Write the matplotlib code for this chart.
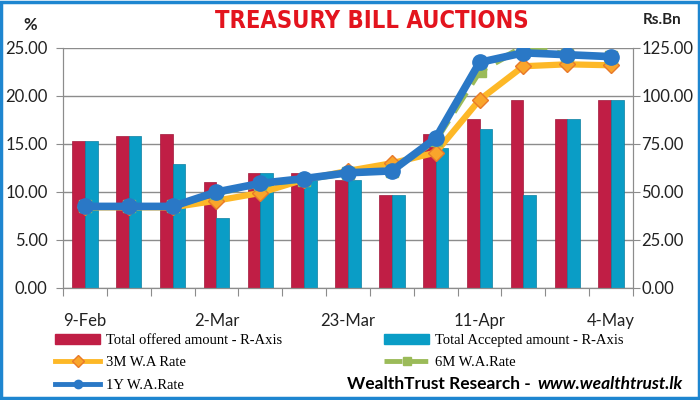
import matplotlib
matplotlib.use('Agg')
import matplotlib.pyplot as plt
import numpy as np
from matplotlib.patches import Patch, Rectangle
from matplotlib.lines import Line2D

# data
tick_labels = ['9-Feb', '', '', '2-Mar', '', '', '23-Mar', '', '', '11-Apr', '', '', '4-May']
offered = [76.7, 79.2, 80.0, 55.4, 60.0, 60.0, 56.5, 48.4, 80.0, 87.8, 97.9, 87.8, 97.9]
accepted = [76.7, 79.2, 64.6, 36.3, 60.0, 56.0, 56.5, 48.4, 73.1, 82.6, 48.4, 87.8, 97.9]
rate_3m = [8.4, 8.4, 8.4, 9.1, 9.9, 11.3, 12.2, 13.0, 14.1, 19.6, 23.1, 23.3, 23.2]
rate_6m = [8.5, 8.5, 8.5, 9.9, 10.8, 11.3, 12.0, 12.2, 15.4, 22.6, 25.1, 24.3, 24.1]
rate_1y = [8.5, 8.5, 8.5, 10.0, 10.9, 11.4, 12.0, 12.2, 15.6, 23.5, 24.5, 24.3, 24.1]

red = '#C01E45'
teal = '#0A9DC6'
yellow = '#FDB827'
green = '#9BBB59'
blue = '#2A78C6'
grid_c = '#8C8C8C'

fig = plt.figure(figsize=(7, 4), dpi=100)
ax = fig.add_axes([63/700, 1-288/400, 570/700, 240/400])

x = np.arange(len(offered))
w = 0.29
ax.bar(x - w/2, offered, w, color=red, edgecolor='#A0183A', linewidth=0.5, zorder=2)
ax.bar(x + w/2, accepted, w, color=teal, edgecolor='#0C7FA0', linewidth=0.5, zorder=2)
ax.set_ylim(0, 125)
ax.set_yticks(np.arange(0, 126, 25))
ax.set_yticklabels(['%.2f' % v for v in np.arange(0, 126, 25)])
ax.grid(axis='y', color=grid_c, linewidth=1.0, zorder=0)
ax.set_axisbelow(True)
ax.set_xlim(-0.5, len(offered) - 0.5)

# category boundaries as ticks, labels at centres
ax.set_xticks(np.arange(-0.5, len(offered), 1))
ax.set_xticklabels([])
ax.set_xticks(x, minor=True)
ax.set_xticklabels(tick_labels, minor=True)
ax.tick_params(axis='x', which='major', length=6, color=grid_c, direction='out')
ax.tick_params(axis='x', which='minor', length=0, pad=18, labelsize=12)

ax2 = ax.twinx()
ax.yaxis.tick_right()
ax.tick_params(axis='y', length=5, color=grid_c, pad=1, labelsize=12)
ax2.plot(x, rate_3m, color=yellow, linewidth=4.5, marker='D', markersize=8,
         markerfacecolor='#F9A52B', markeredgecolor='#E8792A', zorder=3)
ax2.plot(x, rate_6m, color=green, linewidth=4.5, linestyle='--', marker='s', markersize=8,
         markerfacecolor=green, markeredgecolor=green, zorder=4)
ax2.plot(x, rate_1y, color=blue, linewidth=5.5, marker='o', markersize=11,
         markerfacecolor=blue, markeredgecolor=blue, zorder=5)
ax2.set_ylim(0, 25)
ax2.set_yticks(np.arange(0, 26, 5))
ax2.set_yticklabels(['%.2f' % v for v in np.arange(0, 26, 5)])
ax2.yaxis.tick_left()
ax2.tick_params(axis='y', length=5, color=grid_c, pad=6, labelsize=12)

for a in (ax, ax2):
    a.spines['top'].set_visible(False)
    for s in ('left', 'right', 'bottom'):
        a.spines[s].set_color(grid_c)
    for lab in a.get_yticklabels() + a.get_xticklabels(minor=True):
        lab.set_fontfamily('Lato')
        lab.set_color('#222222')

fig.text(372/700, 1-21/400, 'TREASURY BILL AUCTIONS', color='#E3141E', fontsize=17,
         fontweight='bold', family='DejaVu Sans', fontstretch='condensed',
         ha='center', va='center')
fig.text(30/700, 1-25/400, '%', fontsize=12, fontweight='bold', family='Lato',
         ha='center', va='center', color='#222222')
fig.text(662/700, 1-20/400, 'Rs.Bn', fontsize=11, fontweight='bold', family='Lato',
         ha='center', va='center', color='#222222')

handles = [Patch(facecolor=red, edgecolor=red),
           Line2D([], [], color=yellow, linewidth=3.5, marker='D', markersize=6,
                  markerfacecolor='#F9A52B', markeredgecolor='#E8792A'),
           Line2D([], [], color=blue, linewidth=3.5, marker='o', markersize=6,
                  markerfacecolor=blue),
           Patch(facecolor=teal, edgecolor=teal),
           Line2D([], [], color=green, linewidth=3.5, linestyle='--', marker='s',
                  markersize=6, markerfacecolor=green)]
labels = ['Total offered amount - R-Axis', '3M W.A Rate', '1Y W.A.Rate',
          'Total Accepted amount - R-Axis', '6M W.A.Rate']
fig.legend(handles, labels, ncol=2, loc='upper left', bbox_to_anchor=(55/700, 1-334/400),
           frameon=False, prop={'family': 'Liberation Serif', 'size': 10.5},
           handlelength=3.1, handletextpad=0.4, columnspacing=7.0, labelspacing=0.62,
           borderpad=0, borderaxespad=0)

# footer: bold part followed by bold italic url, right aligned
url = fig.text(683/700, 1-384/400, 'www.wealthtrust.lk', fontsize=12.5, fontweight='bold',
               fontstyle='italic', family='Lato', ha='right', va='center')
fig.canvas.draw()
bb = url.get_window_extent(fig.canvas.get_renderer())
fig.text(bb.x0/700 - 0.004, 1-384/400, 'WealthTrust Research - ', fontsize=12.5,
         fontweight='bold', family='Lato', ha='right', va='center')

fig.patches.append(Rectangle((0.002, 0.004), 0.996, 0.992, transform=fig.transFigure,
                             fill=False, edgecolor='#1E86D0', linewidth=2.5))

fig.savefig('out.png', dpi=100)
